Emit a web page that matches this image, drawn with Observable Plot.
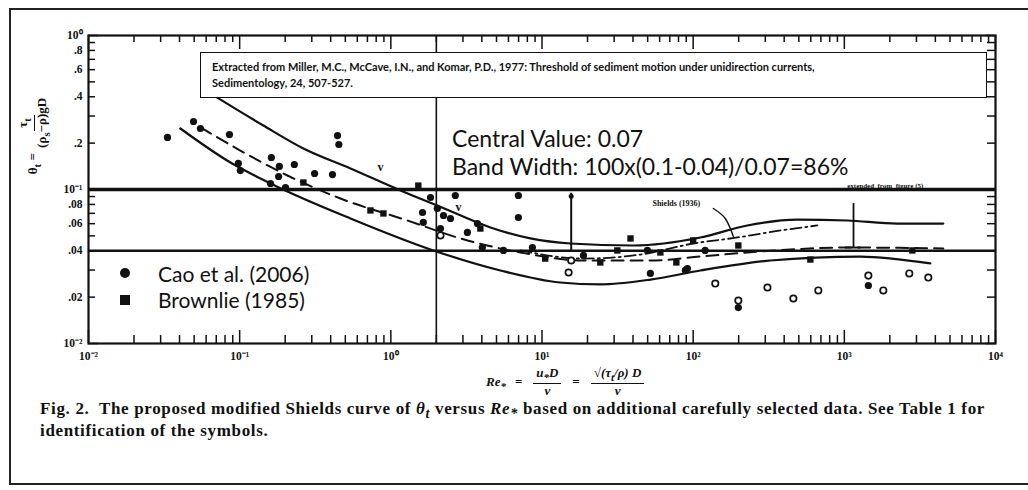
<!DOCTYPE html>
<html><head><meta charset="utf-8">
<script src="https://cdn.jsdelivr.net/npm/d3@7"></script>
<script src="https://cdn.jsdelivr.net/npm/@observablehq/plot@0.6"></script>
<style>
body{margin:0;background:#fff;}
#wrap{position:relative;width:1028px;height:490px;overflow:hidden;background:#fff;color:#111;}
#chart{position:absolute;left:0;top:0;}
#frame{position:absolute;left:9px;top:8px;width:1030px;height:477px;border:2px solid #222;box-sizing:border-box;}
#cite{position:absolute;left:200px;top:52px;width:787px;height:46px;border:1.6px solid #111;background:#fff;box-sizing:border-box;
  font-family:Lato,sans-serif;font-weight:700;font-size:11px;line-height:16px;padding:6px 0 0 11px;white-space:nowrap;}
.big{position:absolute;font-family:Lato,sans-serif;font-size:23px;line-height:1;white-space:nowrap;}
.leg{position:absolute;font-family:Lato,sans-serif;font-size:21px;line-height:1;white-space:nowrap;}
#caption{position:absolute;left:40px;top:400px;font-family:"Liberation Serif",serif;font-weight:700;font-size:17px;line-height:18px;white-space:nowrap;}
#caption span{display:inline-block;}
#ylab{position:absolute;left:-36px;top:118px;width:140px;height:34px;transform:rotate(-90deg);display:flex;align-items:center;justify-content:center;
  font-family:"Liberation Serif",serif;font-weight:700;font-size:13px;}
#xlab{position:absolute;left:486px;top:366px;display:flex;align-items:center;font-family:"Liberation Serif",serif;font-weight:700;font-style:italic;font-size:13px;}
#xlab .eq{padding:0 9px;font-style:normal;}
.frac{display:inline-flex;flex-direction:column;align-items:center;margin:0 2px;line-height:1.15;}
.frac .n{border-bottom:1.4px solid #111;padding:0 3px;}
</style></head><body>
<div id="wrap">
  <div id="chart"></div>
  <div id="frame"></div>
  <div id="cite">Extracted from Miller, M.C., McCave, I.N., and Komar, P.D., 1977: Threshold of sediment motion under unidirection currents,<br>Sedimentology, 24, 507-527.</div>
  <div class="big" id="cv" style="left:452px;top:127px;">Central Value: 0.07</div>
  <div class="big" id="bw" style="left:452px;top:155px;">Band Width: 100x(0.1-0.04)/0.07=86%</div>
  <div class="leg" style="left:158px;top:263px;">Cao et al. (2006)</div>
  <div class="leg" style="left:158px;top:289px;">Brownlie (1985)</div>
  <svg style="position:absolute;left:0;top:0" width="200" height="340">
    <circle cx="125" cy="273" r="5" fill="#111"/>
    <rect x="120" y="295" width="10" height="10" fill="#111"/>
  </svg>
  <div id="ylab"><span>θ<sub>t</sub>&nbsp;=&nbsp;</span><span class="frac"><span class="n">τ<sub>t</sub></span><span>(ρ<sub>s</sub>−ρ)gD</span></span></div>
  <div id="xlab"><span>Re<sub>*</sub></span><span class="eq">=</span><span class="frac"><span class="n">u<sub>*</sub>D</span><span>ν</span></span><span class="eq">=</span><span class="frac"><span class="n">√(τ<sub>t</sub>/ρ)&nbsp;D</span><span>ν</span></span></div>
  <div id="caption"><span id="cap1">Fig. 2.&nbsp; The proposed modified Shields curve of <i>θ<sub>t</sub></i> versus <i>Re<sub>*</sub></i> based on additional carefully selected data. See Table 1 for</span><br><span id="cap2">identification of the symbols.</span></div>
</div>
<script>
// ---------- data ----------
const xMajor = [0.01, 0.1, 1, 10, 100, 1000, 10000];
const xMajorLabels = ["10⁻²", "10⁻¹", "10⁰", "10¹", "10²", "10³", "10⁴"];
const yLabelValues = [1, 0.8, 0.6, 0.4, 0.2, 0.1, 0.08, 0.06, 0.04, 0.02, 0.01];
const yLabelTexts = ["10⁰", ".8", ".6", ".4", ".2", "10⁻¹", ".08", ".06", ".04", ".02", "10⁻²"];

// envelope and curves
const upperRe    = [0.0692, 0.1435, 0.264, 0.541, 1.157, 2.03, 4.56, 8.38, 15.4, 40.2, 111.6, 228, 489, 1047, 2243, 4515];
const upperTheta = [0.402, 0.2604, 0.1846, 0.1369, 0.0986, 0.0787, 0.0567, 0.0481, 0.0446, 0.0433, 0.0488, 0.0584, 0.0638, 0.0629, 0.0601, 0.0601];
const lowerRe    = [0.0405, 0.0869, 0.160, 0.541, 1.91, 5.31, 13.2, 24.3, 52.1, 111.6, 324, 1276, 3706];
const lowerTheta = [0.249, 0.1497, 0.1094, 0.0648, 0.0402, 0.0298, 0.0249, 0.0242, 0.0260, 0.0298, 0.0346, 0.0367, 0.0331];
const midRe      = [0.0551, 0.101, 0.207, 0.464, 1.288, 2.89, 7.2, 18.8, 52.1, 111.6, 278, 1096, 4515];
const midTheta   = [0.253, 0.179, 0.1233, 0.0874, 0.0629, 0.0481, 0.0390, 0.0346, 0.0346, 0.0367, 0.0396, 0.0420, 0.0414];
const shieldsRe    = [7.2, 18.8, 44.8, 100.3, 196, 378, 663];
const shieldsTheta = [0.0402, 0.0356, 0.0378, 0.0446, 0.0488, 0.0542, 0.0584];
const leaderRe    = [136, 163, 184.5];
const leaderTheta = [0.0753, 0.0648, 0.0495];

// data points
const caoRe    = [0.0333, 0.0495, 0.055, 0.0856, 0.098, 0.101, 0.162, 0.183, 0.23, 0.181, 0.313, 0.411, 0.444, 0.453, 0.16, 0.201,
                  1.83, 1.62, 1.64, 2.03, 2.23, 2.13, 2.48, 3.21, 3.74, 4.03, 5.56, 6.98, 8.64, 18.8, 49.8, 52.1, 91.6, 120, 88.8, 199, 1442, 2.67, 6.98];
const caoTheta = [0.218, 0.2765, 0.249, 0.2276, 0.1476, 0.1328, 0.1614, 0.1411, 0.1453, 0.1215, 0.127, 0.125, 0.224, 0.196, 0.1094, 0.103,
                  0.0887, 0.0709, 0.0611, 0.0753, 0.0678, 0.0558, 0.0648, 0.0526, 0.0601, 0.042, 0.0402, 0.0658, 0.042, 0.0373, 0.0402, 0.0285, 0.0307, 0.0402, 0.0298, 0.0171, 0.0238, 0.0914, 0.0914];
const brownRe    = [0.264, 1.52, 0.733, 0.893, 38.5, 100, 199, 596, 2818, 3.91, 31.5, 24.3, 10.5, 77.4, 60.7];
const brownTheta = [0.111, 0.106, 0.0731, 0.0699, 0.0481, 0.0467, 0.0433, 0.0351, 0.0402, 0.0558, 0.0402, 0.0336, 0.0356, 0.0336, 0.039];
const openRe    = [15.6, 15.0, 140, 199, 310, 460, 673, 1442, 1811, 2690, 3594, 2.13];
const openTheta = [0.0346, 0.0289, 0.0245, 0.019, 0.0231, 0.0196, 0.0221, 0.0276, 0.0221, 0.0285, 0.0268, 0.0503];
const vRe    = [0.853, 2.80];
const vTheta = [0.139, 0.0764];
const errRe = [15.6], errLo = [0.0391], errHi = [0.0946];
const extRe = [1150], extLo = [0.042], extHi = [0.081], extBarL = [1016], extBarR = [1295];

// ---------- build ----------
const pts = (xs, ys) => xs.map((x, i) => ({x, y: ys[i]}));
const W = 1028, H = 400, mT = 35, mB = 57, mL = 88, mR = 33;
const innerW = W - mL - mR, innerH = H - mT - mB;
const xMinor = [], yMinor = [];
for (const e of [-2, -1, 0, 1, 2, 3]) for (let k = 2; k <= 9; k++) xMinor.push(+(k * 10 ** e).toPrecision(3));
for (const e of [-2, -1]) for (let k = 2; k <= 9; k++) yMinor.push(+(k * 10 ** e).toPrecision(3));
const yMajor = [0.01, 0.1, 1];
const ink = "#111";

const chart = Plot.plot({
  width: W, height: H, marginTop: mT, marginBottom: mB, marginLeft: mL, marginRight: mR,
  style: {background: "transparent", fontFamily: "Liberation Serif, serif", overflow: "visible", color: ink},
  x: {type: "log", domain: [0.01, 10000], axis: null},
  y: {type: "log", domain: [0.01, 1], axis: null},
  marks: [
    Plot.ruleY([0.1], {stroke: ink, strokeWidth: 3.5}),
    Plot.ruleY([0.04], {stroke: ink, strokeWidth: 2.6}),
    Plot.ruleX([2], {stroke: ink, strokeWidth: 1.6}),
    Plot.line(pts(upperRe, upperTheta), {x: "x", y: "y", curve: "monotone-x", stroke: ink, strokeWidth: 2.2}),
    Plot.line(pts(lowerRe, lowerTheta), {x: "x", y: "y", curve: "monotone-x", stroke: ink, strokeWidth: 2.2}),
    Plot.line(pts(midRe, midTheta), {x: "x", y: "y", curve: "monotone-x", stroke: ink, strokeWidth: 2, strokeDasharray: "12,7"}),
    Plot.line(pts(shieldsRe, shieldsTheta), {x: "x", y: "y", curve: "monotone-x", stroke: ink, strokeWidth: 1.8, strokeDasharray: "11,4,2,4"}),
    Plot.line(pts(leaderRe, leaderTheta), {x: "x", y: "y", curve: "natural", stroke: ink, strokeWidth: 1.4}),
    Plot.text([{x: 77.4, y: 0.0811}], {x: "x", y: "y", text: () => "Shields (1936)", fontSize: 8, fontWeight: 700, fill: ink}),
    Plot.text([{x: 1866, y: 0.1}], {x: "x", y: "y", text: () => "extended  from  figure (5)", fontSize: 7, fontWeight: 700, lineAnchor: "bottom", dy: -2, fill: ink}),
    Plot.ruleX(errRe.map((x, i) => ({x, lo: errLo[i], hi: errHi[i]})), {x: "x", y1: "lo", y2: "hi", stroke: ink, strokeWidth: 2}),
    Plot.dot(errRe.map((x, i) => ({x, y: errHi[i]})), {x: "x", y: "y", r: 2.5, fill: ink, dy: 3}),
    Plot.ruleX(extRe.map((x, i) => ({x, lo: extLo[i], hi: extHi[i]})), {x: "x", y1: "lo", y2: "hi", stroke: ink, strokeWidth: 1.8}),
    Plot.ruleY(extLo.map((y, i) => ({y, a: extBarL[i], b: extBarR[i]})), {y: "y", x1: "a", x2: "b", stroke: ink, strokeWidth: 2}),
    Plot.dot(pts(openRe, openTheta), {x: "x", y: "y", r: 3.2, fill: "white", stroke: ink, strokeWidth: 1.7}),
    Plot.dot(pts(caoRe, caoTheta), {x: "x", y: "y", r: 3.6, fill: ink}),
    Plot.dot(pts(brownRe, brownTheta), {x: "x", y: "y", r: 3.6, symbol: "square", fill: ink}),
    Plot.text(pts(vRe, vTheta), {x: "x", y: "y", text: () => "v", fontSize: 12, fontWeight: 700, fill: ink}),
    Plot.frame({stroke: ink, strokeWidth: 2.2}),
    // inward ticks
    Plot.tickX(xMinor, {x: d => d, insetTop: innerH - 8, stroke: ink, strokeWidth: 1.5}),
    Plot.tickX(xMajor, {x: d => d, insetTop: innerH - 13, stroke: ink, strokeWidth: 1.5}),
    Plot.tickX(xMinor, {x: d => d, insetBottom: innerH - 7, stroke: ink, strokeWidth: 1.5}),
    Plot.tickX(xMajor, {x: d => d, insetBottom: innerH - 14, stroke: ink, strokeWidth: 1.5}),
    Plot.tickY(yMinor, {y: d => d, insetRight: innerW - 7, stroke: ink, strokeWidth: 1.5}),
    Plot.tickY(yMajor, {y: d => d, insetRight: innerW - 10, stroke: ink, strokeWidth: 1.5}),
    Plot.tickY(yMinor, {y: d => d, insetLeft: innerW - 8, stroke: ink, strokeWidth: 1.5}),
    Plot.tickY(yMajor, {y: d => d, insetLeft: innerW - 10, stroke: ink, strokeWidth: 1.5}),
    // tick labels
    Plot.text(xMajor, {x: d => d, frameAnchor: "bottom", dy: 16, text: (d, i) => xMajorLabels[i], fontSize: 11.5, fontWeight: 700, fill: ink}),
    Plot.text(yLabelValues, {y: d => d, frameAnchor: "left", dx: -6, textAnchor: "end", text: (d, i) => yLabelTexts[i], fontSize: 11.5, fontWeight: 700, fill: ink})
  ]
});
document.getElementById("chart").appendChild(chart);

// stretch caption line 1 to the width it has in the figure
const cap1 = document.getElementById("cap1"), cap2 = document.getElementById("cap2");
const w1 = cap1.getBoundingClientRect().width;
const ls = (945 - w1) / cap1.textContent.length;
cap1.style.letterSpacing = ls + "px";
cap2.style.letterSpacing = ls + "px";
</script>
</body></html>
